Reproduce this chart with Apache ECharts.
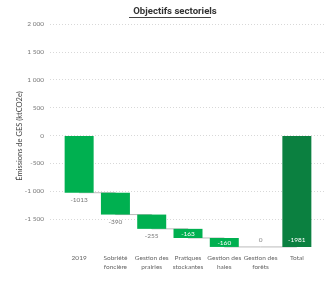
<!DOCTYPE html>
<html><head><meta charset="utf-8">
<script src="https://cdn.jsdelivr.net/npm/echarts@6/dist/echarts.min.js"></script>
<style>html,body{margin:0;padding:0;background:#fff}#c{width:328px;height:282px}</style>
</head><body><div id="c"></div>
<script>
const categories = ['2019', 'Sobriété\nfoncière', 'Gestion des\nprairies', 'Pratiques\nstockantes', 'Gestion des\nhaies', 'Gestion des\nforêts', 'Total'];
const deltas = [-1013, -390, -255, -163, -160, 0];
const total = -1981;
const yTicks = [2000, 1500, 1000, 500, 0, -500, -1000, -1500];

// derived: transparent bases and running totals
const bases = [];
const running = [];
let acc = 0;
deltas.forEach(v => { bases.push(acc); acc += v; running.push(acc); });
bases.push(0);
running.push(total);
const visible = deltas.concat([total]);

const labelPos = ['bottom', 'bottom', 'bottom', 'inside', 'inside', 'top', 'insideBottom'];
const labelColor = ['#777', '#777', '#777', '#fff', '#fff', '#888', '#fff'];
const barColors = ['#00B050', '#00B050', '#00B050', '#00B050', '#00B050', '#00B050', '#0B8040'];

const font = 'Lato';
const chart = echarts.init(document.getElementById('c'), null, {renderer: 'canvas'});
chart.setOption({
  animation: false,
  title: {
    text: 'Objectifs sectoriels', left: 170, top: 2, textAlign: 'center',
    textStyle: {fontFamily: 'Roboto', fontWeight: 'bold', fontSize: 9.6, color: '#333'}
  },
  graphic: [{type: 'line', shape: {x1: 129, y1: 17.5, x2: 211, y2: 17.5}, style: {stroke: '#444', lineWidth: 1}}],
  grid: [
    {left: 50, right: 3, top: 24, bottom: 63},
    {left: 61, right: 13, top: 24, bottom: 34}
  ],
  xAxis: [
    {gridIndex: 0, type: 'category', data: categories, show: false},
    {gridIndex: 1, type: 'category', data: categories,
     axisLine: {show: false}, axisTick: {show: false},
     axisLabel: {interval: 0, color: '#666', fontSize: 6.5, fontFamily: font, lineHeight: 8.5, margin: 6}}
  ],
  yAxis: [
    {gridIndex: 0, type: 'value', min: yTicks[yTicks.length - 1], max: yTicks[0], interval: 500,
     axisLine: {show: false}, axisTick: {show: false},
     axisLabel: {color: '#777', fontSize: 6.5, fontFamily: font, margin: 6,
       formatter: v => (v < 0 ? '-' : '') + Math.abs(v).toLocaleString('fr-FR').replace(/\s/g, ' ')},
     splitLine: {lineStyle: {color: '#d8d8d8', type: [1, 2], width: 1}}},
    {gridIndex: 1, type: 'value', min: -2000, max: 2000, interval: 500,
     name: 'Émissions de GES (ktCO2e)', nameLocation: 'middle', nameGap: 37,
     nameTextStyle: {fontFamily: font, fontSize: 7.5, color: '#444'},
     axisLine: {show: false}, axisTick: {show: false}, axisLabel: {show: false}, splitLine: {show: false}}
  ],
  series: [
    {type: 'line', xAxisIndex: 1, yAxisIndex: 1, data: running, step: 'end', symbol: 'none', z: 1,
     lineStyle: {color: '#bbb', width: 1}},
    {type: 'bar', xAxisIndex: 1, yAxisIndex: 1, stack: 'w', data: bases, barWidth: 29, z: 2,
     itemStyle: {color: 'transparent'}, silent: true},
    {type: 'bar', xAxisIndex: 1, yAxisIndex: 1, stack: 'w', barWidth: 29, z: 3,
     data: visible.map((v, i) => ({
       value: v,
       itemStyle: {color: barColors[i]},
       label: {show: true, position: labelPos[i], color: labelColor[i], distance: 4}
     })),
     label: {show: true, fontSize: 6.5, fontFamily: font, formatter: p => String(p.value)}}
  ]
});
</script></body></html>
